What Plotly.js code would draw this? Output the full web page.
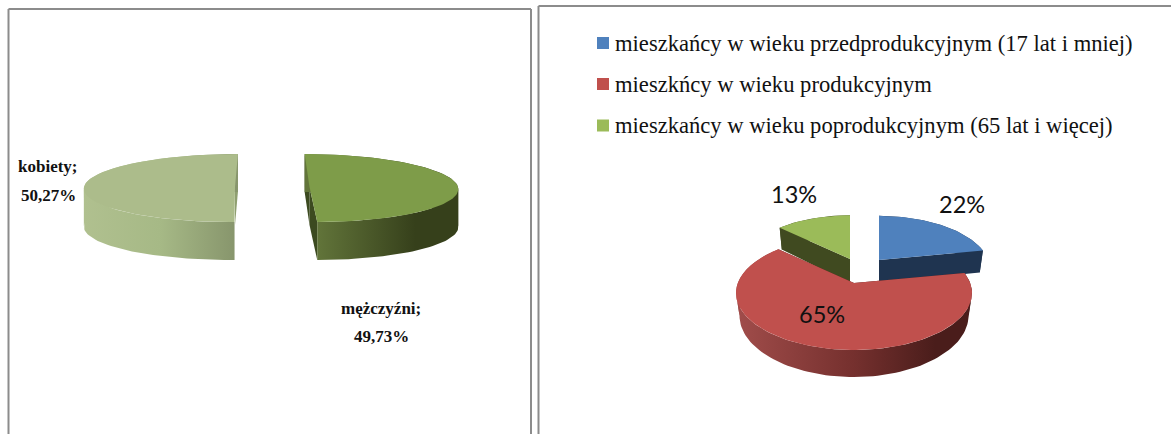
<!DOCTYPE html>
<html><head><meta charset="utf-8">
<script src="https://cdn.plot.ly/plotly-3.0.1.min.js"></script>
<style>html,body{margin:0;padding:0;background:#fff;overflow:hidden}</style>
</head><body><div id="chart" style="width:1171px;height:434px"></div>
<script>
// ---- data ----
const genderNames = ['mężczyźni', 'kobiety'];
const genderValues = [49.73, 50.27];
const genderLabels = ['49,73%', '50,27%'];
const ageNames = ['mieszkańcy w wieku przedprodukcyjnym (17 lat i mniej)', 'mieszkńcy w wieku produkcyjnym', 'mieszkańcy w wieku poprodukcyjnym (65 lat i więcej)'];
const ageValues = [22, 65, 13];
const ageLabels = ['22%', '65%', '13%'];

// ---- styling and geometry of the fake 3D pies ----
const serif = 'Liberation Serif', sans = 'Lato';
const genderStyle = [
  {cx:309.5, cy:187, A:148.5, B:34, k:0.03, sh:-5, d:38, bA:1, bB:1, scale:1, top:'#7e9c49', face:'#3c4a20',
   wall:[[0,'#62753a'],[0.7,'#36401b'],[1,'#36401b']], g0:316, g1:458},
  {cx:235, cy:187, A:151, B:34, k:0.03, sh:3, d:38, bA:1, bB:1, scale:1, top:'#acbc8b', face:'#8f9f70',
   wall:[[0,'#b0c08f'],[0.5,'#a6b986'],[1,'#87956c']], g0:84, g1:236}
];
const base3 = {A:116.2, B:55.2, k:0.1754, d:22, bA:0.97, bB:1.076, sh:0};
const ageStyle = [
  {...base3, d:24, cx:879, cy:260, scale:0.94, top:'#4f81bd', face:'#1f3450', wall:[[0,'#1f3450'],[1,'#1f3450']], g0:880, g1:985},
  {...base3, cx:854, cy:283, scale:1, top:'#c0504d', face:'#4a1e1c', wall:[[0,'#a04c4a'],[0.5,'#75302e'],[0.85,'#4a1d1b'],[1,'#4a1d1b']], g0:738, g1:970},
  {...base3, d:26, cx:850, cy:259, scale:0.93, top:'#9bbb59', face:'#404a20', wall:[[0,'#404a20'],[1,'#404a20']], g0:775, g1:855}
];

function pt(s, deg, low) {
  const t = deg * Math.PI / 180, u = Math.sin(t), v = Math.cos(t), w = 1 + s.k * v;
  const A = s.A * s.scale * (low ? s.bA : 1), B = s.B * s.scale * (low ? s.bB : 1);
  return [s.cx + (A * u + s.sh * v) / w, s.cy + (low ? s.d * s.scale : 0) - B * v / w];
}
function arc(s, a, b, low) {
  const out = [], n = Math.max(2, Math.ceil(Math.abs(b - a) / 2));
  for (let i = 0; i <= n; i++) out.push(pt(s, a + (b - a) * i / n, low));
  return out;
}
function poly(points, fill, gradient) {
  const p = points.concat([points[0]]);
  const tr = {type:'scatter', mode:'lines', x:p.map(q => q[0]), y:p.map(q => q[1]), fill:'toself',
    line:{width:0, color:'rgba(0,0,0,0)'}, hoverinfo:'skip', showlegend:false};
  if (gradient) tr.fillgradient = {type:'horizontal', colorscale:gradient.scale, start:gradient.start, stop:gradient.stop};
  else tr.fillcolor = fill;
  return tr;
}
function sliceTraces(s, a, b) {
  const centreT = [s.cx, s.cy], centreL = [s.cx, s.cy + s.d * s.scale];
  const faceA = [centreT, pt(s, a, false), pt(s, a, true), centreL];
  const faceB = [centreT, pt(s, b, false), pt(s, b, true), centreL];
  const out = [poly(faceA, s.face), poly(faceB, s.face)];
  // the side wall is split where the rim turns round, so each piece stays a simple outline
  const turn = Math.asin(s.k) * 180 / Math.PI;
  const cuts = [a, 90 + turn, 270 - turn, b].filter(c => c >= a && c <= b).sort((p, q) => p - q);
  for (let i = 0; i < cuts.length - 1; i++) {
    const wall = arc(s, cuts[i], cuts[i + 1], false).concat(arc(s, cuts[i + 1], cuts[i], true));
    out.push(poly(wall, null, {scale:s.wall, start:s.g0, stop:s.g1}));
  }
  out.push(poly([centreT].concat(arc(s, a, b, false)), s.top));
  return out;
}
function sweeps(values) {
  const total = values.reduce((x, y) => x + y, 0);
  let acc = 0;
  return values.map(v => { const a = acc; acc += v / total * 360; return [a, acc]; });
}

const gAng = sweeps(genderValues), aAng = sweeps(ageValues);
let traces = [];
[1, 0].forEach(i => { traces = traces.concat(sliceTraces(genderStyle[i], gAng[i][0], gAng[i][1])); });
[2, 0, 1].forEach(i => { traces = traces.concat(sliceTraces(ageStyle[i], aAng[i][0], aAng[i][1])); });

// legend swatches
const legendY = [43, 84, 125.5];
traces.push({type:'scatter', mode:'markers', x:[603, 603, 603], y:legendY, hoverinfo:'skip', showlegend:false,
  marker:{symbol:'square', size:12, color:ageStyle.map(s => s.top), line:{width:0}}});

const annotations = [];
function txt(x, y, text, font, size, color, bold, anchor) {
  annotations.push({x, y, xref:'x', yref:'y', text: bold ? '<b>' + text + '</b>' : text, showarrow:false,
    xanchor:anchor || 'center', yanchor:'middle', font:{family:font, size, color}});
}
ageNames.forEach((n, i) => txt(613, legendY[i], n, serif, 22.6, '#111', false, 'left'));
txt(48, 166, genderNames[1] + ';', serif, 17, '#111', true);
txt(48.5, 195, genderLabels[1], serif, 17, '#111', true);
txt(381, 308, genderNames[0] + ';', serif, 17, '#111', true);
txt(381, 336, genderLabels[0], serif, 17, '#111', true);
txt(962, 204, ageLabels[0], sans, 23.5, '#111', false);
txt(822, 314, ageLabels[1], sans, 23.5, '#111', false);
txt(794, 194, ageLabels[2], sans, 23.5, '#111', false);

const frame = '#8c8c8c';
const shapes = [
  {type:'line', x0:8.5, x1:8.5, y0:9, y1:434},
  {type:'line', x0:531, x1:531, y0:9, y1:434},
  {type:'line', x0:8.5, x1:531, y0:9, y1:9},
  {type:'line', x0:538.5, x1:538.5, y0:6, y1:434},
  {type:'line', x0:538.5, x1:1171, y0:6, y1:6}
].map(s => ({...s, xref:'x', yref:'y', line:{color:frame, width:2}}));

Plotly.newPlot('chart', traces, {
  width:1171, height:434, margin:{l:0, r:0, t:0, b:0}, showlegend:false,
  paper_bgcolor:'#fff', plot_bgcolor:'#fff',
  xaxis:{range:[0, 1171], visible:false, fixedrange:true},
  yaxis:{range:[434, 0], visible:false, fixedrange:true},
  shapes, annotations
}, {displayModeBar:false, staticPlot:true});
</script></body></html>
